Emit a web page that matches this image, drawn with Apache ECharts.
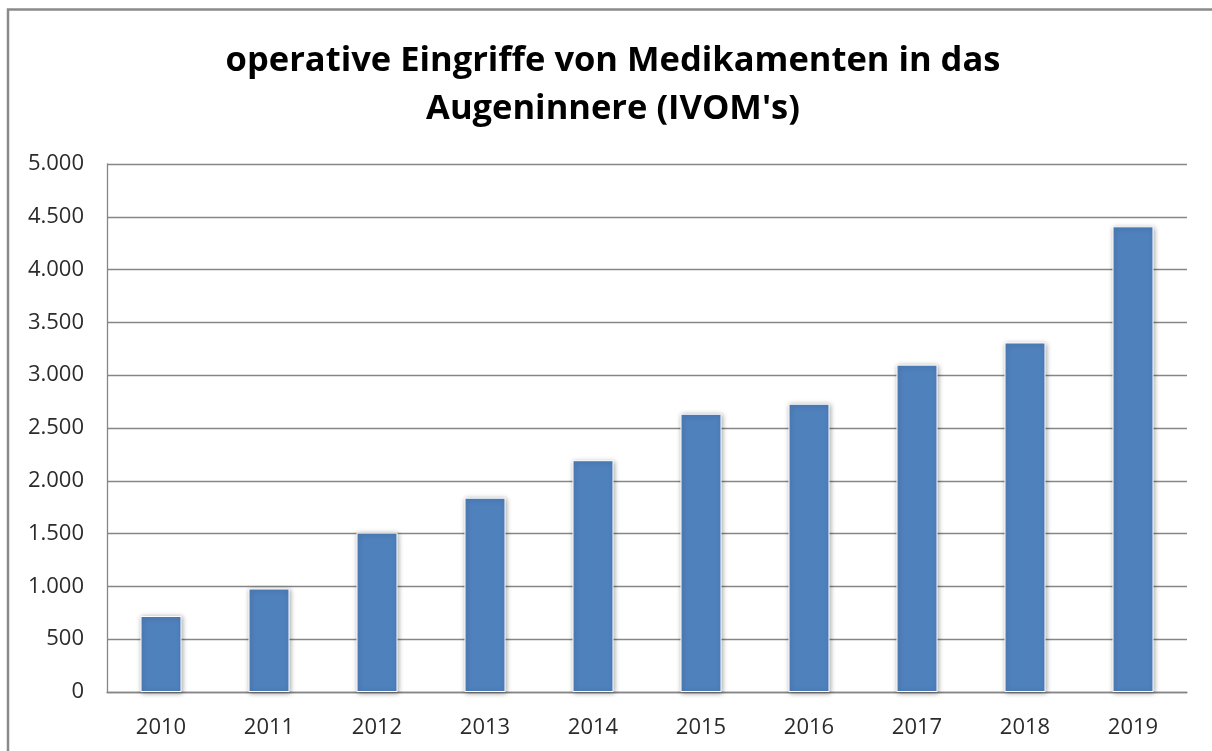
<!DOCTYPE html>
<html>
<head>
<meta charset="utf-8">
<script src="https://cdn.jsdelivr.net/npm/echarts@6/dist/echarts.min.js"></script>
<style>
  html, body { margin: 0; padding: 0; background: #fff; }
  #chart { width: 1212px; height: 751px; }
</style>
</head>
<body>
<div id="chart"></div>
<script>
var years = ['2010','2011','2012','2013','2014','2015','2016','2017','2018','2019'];
var eingriffe = [720, 980, 1510, 1840, 2195, 2635, 2730, 3100, 3310, 4410];
var yTicks = { min: 0, max: 5000, interval: 500 };
var titel = "operative Eingriffe von Medikamenten in das\nAugeninnere (IVOM's)";

var myChart = echarts.init(document.getElementById('chart'));
var option = {
    animation: false,
    backgroundColor: '#fff',
    title: {
        text: titel,
        left: 608,
        top: 32,
        textAlign: 'center',
        textStyle: {
            fontFamily: 'Open Sans',
            fontWeight: 'bold',
            fontSize: 34.5,
            lineHeight: 48,
            color: '#000'
        }
    },
    // rahmen um das diagramm
    graphic: [{
        type: 'rect',
        shape: { x: 8, y: 9.5, width: 1240, height: 780 },
        style: { fill: 'none', stroke: '#8a8a8a', lineWidth: 2.5 },
        silent: true
    }],
    grid: {
        left: 107,
        right: 25,
        top: 164,
        bottom: 59
    },
    xAxis: {
        type: 'category',
        data: years,
        axisTick: { show: false },
        axisLine: { lineStyle: { color: '#868686', width: 1.3 } },
        axisLabel: {
            margin: 25,
            fontFamily: 'Open Sans',
            fontSize: 22,
            color: '#2b2b2b'
        }
    },
    yAxis: {
        type: 'value',
        min: yTicks.min,
        max: yTicks.max,
        interval: yTicks.interval,
        axisLine: { show: true, lineStyle: { color: '#868686', width: 1.3 } },
        axisTick: { show: false },
        splitLine: { lineStyle: { color: '#868686', width: 1.3 } },
        axisLabel: {
            margin: 23,
            fontFamily: 'Open Sans',
            fontSize: 22,
            color: '#2b2b2b',
            formatter: function (v) {
                return String(v).replace(/\B(?=(\d{3})+(?!\d))/g, '.');
            }
        }
    },
    series: [{
        type: 'bar',
        data: eingriffe,
        barWidth: 41,
        itemStyle: {
            color: '#4f81bd',
            borderColor: '#fff',
            borderWidth: 1,
            shadowColor: 'rgba(0,0,0,0.35)',
            shadowBlur: 5,
            shadowOffsetX: 1,
            shadowOffsetY: 1
        }
    }]
};
myChart.setOption(option);
</script>
</body>
</html>
